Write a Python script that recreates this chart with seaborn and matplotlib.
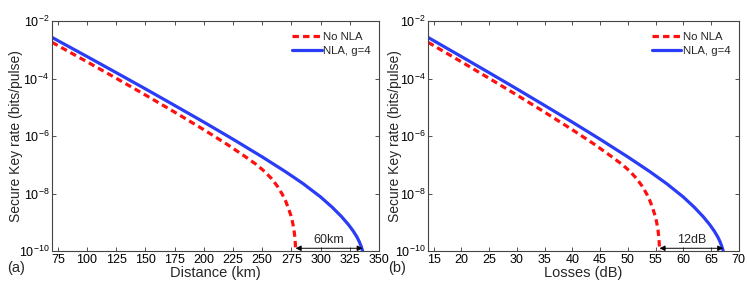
import pandas as pd
import matplotlib
matplotlib.use('Agg')
from matplotlib import pyplot as plt
import seaborn as sns

# values (distance in km, losses in dB, rate in bits/pulse)
dist_no_nla = [70, 100, 125, 150, 175, 200, 220, 235, 245, 252, 258, 263, 267, 270,
               272.5, 274.5, 276, 277.2, 278, 278.4, 278.6]
rate_no_nla = [1.82e-3, 3.82e-4, 1.02e-4, 2.67e-5, 6.79e-6, 1.66e-6, 5.12e-7, 1.98e-7,
               1.02e-7, 5.87e-8, 3.29e-8, 1.79e-8, 9.73e-9, 5.52e-9, 3.02e-9, 1.74e-9,
               1.0e-9, 5.45e-10, 2.86e-10, 1.64e-10, 1.0e-10]
dist_nla = [70, 100, 125, 150, 175, 200, 225, 250, 270, 285, 300, 310, 318, 324, 328,
            331, 333, 334.5, 335.5, 336]
rate_nla = [2.69e-3, 5.81e-4, 1.60e-4, 4.36e-5, 1.16e-5, 3.05e-6, 7.74e-7, 1.88e-7,
            5.73e-8, 2.21e-8, 7.59e-9, 3.31e-9, 1.56e-9, 8.13e-10, 4.90e-10, 3.13e-10,
            2.16e-10, 1.53e-10, 1.16e-10, 1.0e-10]
loss_no_nla = [14, 20, 25, 30, 35, 40, 44, 47, 49, 50.4, 51.6, 52.6, 53.4, 54,
               54.5, 54.9, 55.2, 55.44, 55.6, 55.68, 55.72]
loss_nla = [14, 20, 25, 30, 35, 40, 45, 50, 54, 57, 60, 62, 63.6, 64.8, 65.6,
            66.2, 66.6, 66.9, 67.1, 67.2]

dist_ticks = [75, 100, 125, 150, 175, 200, 225, 250, 275, 300, 325, 350]
loss_ticks = [15, 20, 25, 30, 35, 40, 45, 50, 55, 60, 65, 70]
y_ticks = [1e-10, 1e-8, 1e-6, 1e-4, 1e-2]

sns.set_style("ticks")
plt.rcParams['font.family'] = ['Liberation Sans', 'DejaVu Sans']
plt.rcParams['mathtext.fontset'] = 'custom'
plt.rcParams['mathtext.rm'] = 'Liberation Sans'
plt.rcParams['mathtext.it'] = 'Liberation Sans:italic'

red = '#ff1010'
blue = '#2a3cf5'

fig = plt.figure(figsize=(7.47, 2.84), dpi=100)
ax1 = fig.add_axes([0.0696, 0.116, 0.4378, 0.81])
ax2 = fig.add_axes([0.573, 0.116, 0.416, 0.81])

panels = [
    (ax1, dist_no_nla, dist_nla, dist_ticks, (70, 350), 'Distance (km)', '60km', -0.09),
    (ax2, loss_no_nla, loss_nla, loss_ticks, (14, 70), 'Losses (dB)', '12dB', -0.085),
]

for ax, x_no, x_nla, xt, xl, xlabel, gap_text, ylab_x in panels:
    df_no = pd.DataFrame({'x': x_no, 'rate': rate_no_nla})
    df_nla = pd.DataFrame({'x': x_nla, 'rate': rate_nla})
    sns.lineplot(data=df_no, x='x', y='rate', ax=ax, color=red, lw=2.3,
                 linestyle=(0, (2.0, 1.3)), label='No NLA')
    sns.lineplot(data=df_nla, x='x', y='rate', ax=ax, color=blue, lw=2.3,
                 label='NLA, g=4')
    ax.set_yscale('log')
    ax.set_ylim(1e-10, 1e-2)
    ax.set_xlim(*xl)
    ax.set_xticks(xt)
    ax.set_yticks(y_ticks)
    ax.minorticks_off()
    ax.tick_params(direction='in', length=3, width=0.6, labelsize=9,
                   top=True, right=True, colors='#333333', labelcolor='black', pad=2)
    for s in ax.spines.values():
        s.set_color('#444444')
        s.set_linewidth(0.8)
    ax.set_xlabel(xlabel, fontsize=10.5, labelpad=0)
    ax.set_ylabel('Secure Key rate (bits/pulse)', fontsize=10)
    ax.yaxis.set_label_coords(ylab_x, 0.5)
    ax.legend(loc='upper right', bbox_to_anchor=(1.0, 0.985), frameon=False,
              fontsize=8.2, handlelength=2.6, handletextpad=0.15, labelspacing=0.35,
              borderpad=0.2, borderaxespad=0.5)

    # gap arrow between the two cut-off points
    ax.annotate('', xy=(x_nla[-1], 1.25e-10), xytext=(x_no[-1], 1.25e-10),
                arrowprops=dict(arrowstyle='<|-|>', color='black', lw=0.7,
                                mutation_scale=8, shrinkA=0, shrinkB=0))
    ax.text((x_no[-1] + x_nla[-1]) / 2, 2.4e-10, gap_text, ha='center',
            va='center', fontsize=9)

fig.text(0.009, 0.055, '(a)', fontsize=10.5, ha='left', va='center')
fig.text(0.52, 0.055, '(b)', fontsize=10.5, ha='left', va='center')

plt.savefig('out.png', dpi=100)
